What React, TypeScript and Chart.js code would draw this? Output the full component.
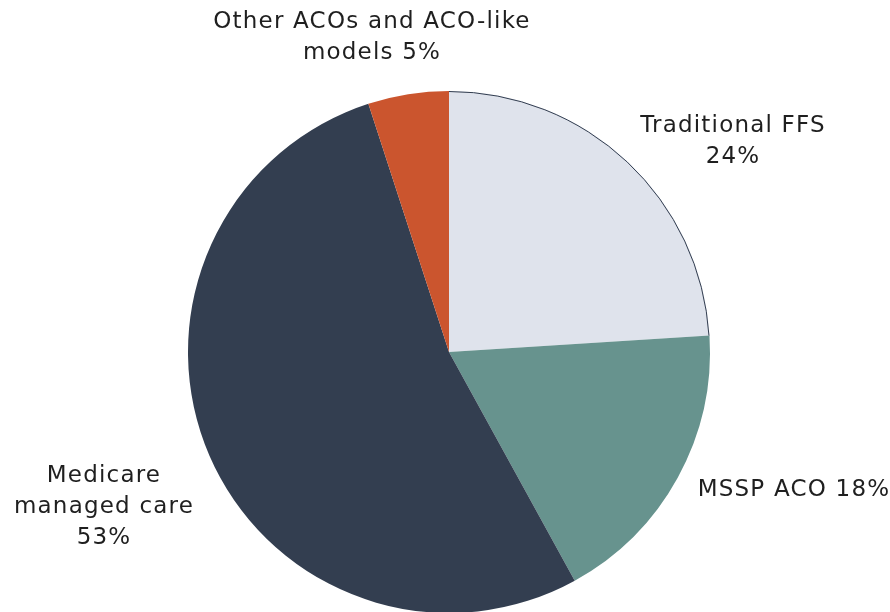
import React, { useEffect, useRef } from "react";
import { Chart, registerables } from "chart.js";

Chart.register(...registerables);

const categories = ["Traditional FFS", "MSSP ACO", "Medicare managed care", "Other ACOs and ACO-like models"];
const values = [24, 18, 53, 5];
const colors = ["#dfe3ec", "#67938e", "#333e50", "#cb552e"];
const labelLines = [
  ["Traditional FFS", "24%"],
  ["MSSP ACO 18%"],
  ["Medicare", "managed care", "53%"],
  ["Other ACOs and ACO-like", "models 5%"],
];

const labelPos = [
  { x: 733, y: 126 },
  { x: 794, y: 490 },
  { x: 104, y: 476 },
  { x: 372, y: 22 },
];

const labelPlugin = {
  id: "outsideLabels",
  afterDatasetsDraw(chart: any) {
    const ctx = chart.ctx;
    const arc = chart.getDatasetMeta(0).data[0];
    if (arc) {
      ctx.save();
      ctx.strokeStyle = "#333e50";
      ctx.lineWidth = 1;
      ctx.beginPath();
      ctx.arc(arc.x, arc.y, arc.outerRadius - 0.5, arc.startAngle, arc.endAngle);
      ctx.stroke();
      ctx.restore();
    }
  },
  afterDraw(chart: any) {
    const ctx = chart.ctx;
    ctx.save();
    ctx.fillStyle = "#1f1f1f";
    ctx.font = "23px 'DejaVu Sans'";
    try { (ctx as any).letterSpacing = "1.2px"; } catch (e) {}
    ctx.textAlign = "center";
    ctx.textBaseline = "middle";
    labelLines.forEach((lines, i) => {
      const p = labelPos[i];
      lines.forEach((t, j) => ctx.fillText(t, p.x, p.y + j * 31));
    });
    ctx.restore();
  },
};

export default function App() {
  const ref = useRef<HTMLCanvasElement>(null);
  useEffect(() => {
    if (!ref.current) return;
    const chart = new Chart(ref.current, {
      type: "pie",
      data: {
        labels: categories,
        datasets: [
          {
            data: values,
            backgroundColor: colors,
            borderWidth: 0,
          },
        ],
      },
      options: {
        animation: false,
        responsive: false,
        layout: { padding: { left: 188, right: 180, top: 91, bottom: 27 } },
        plugins: { legend: { display: false }, tooltip: { enabled: false } },
      },
      plugins: [labelPlugin],
    });
    return () => chart.destroy();
  }, []);
  return (
    <div style={{ position: "absolute", left: 0, top: 0, width: 890, height: 612, overflow: "hidden", background: "#fff" }}>
      <canvas ref={ref} width={890} height={640} style={{ display: "block" }} />
    </div>
  );
}
